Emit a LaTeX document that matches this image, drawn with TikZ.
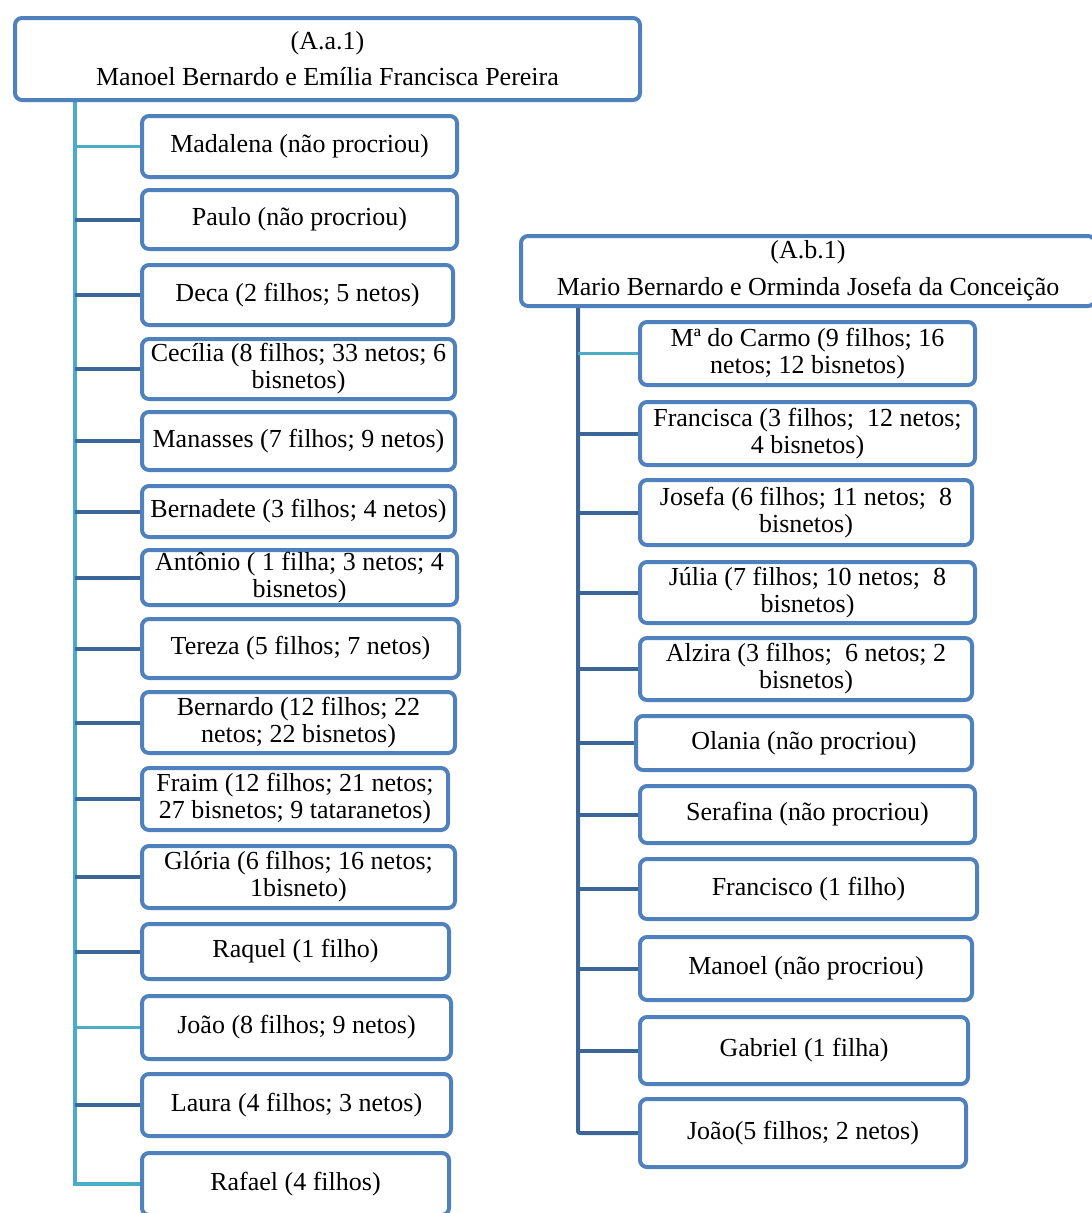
\documentclass[tikz,border=0pt]{standalone}
\usepackage{fontspec}
\setmainfont{Liberation Serif}
\usetikzlibrary{backgrounds}
\definecolor{boxblue}{HTML}{4F81BD}
\definecolor{linkdark}{HTML}{3B6497}
\definecolor{linklight}{HTML}{4BACC6}
\begin{document}
\begin{tikzpicture}[x=1pt,y=-1pt,
  font=\fontsize{26}{27}\selectfont,
  member/.style={draw=boxblue, line width=4pt, rounded corners=7pt, fill=white,
    anchor=west, align=center, inner sep=0pt},
  couple/.style={member, anchor=center},
  darklink/.style={draw=linkdark, line width=4pt},
  lightlink/.style={draw=linklight, line width=2.5pt},
  trunkL/.style={draw=linklight, line width=3.5pt},
  trunkR/.style={draw=linkdark, line width=4pt, rounded corners=2pt},
]
\useasboundingbox (0,0) rectangle (1092,1213);
\clip (0,0) rectangle (1092,1213);

% ---- family A.a.1 ----
\node[couple, minimum width=625pt, minimum height=82pt] (hL) at (327.5,59)
  {(A.a.1)\\[9pt]Manoel Bernardo e Emília Francisca Pereira};

\node[member, minimum width=315pt, minimum height=61pt] (l1) at (140,146.5) {Madalena (não procriou)};
\node[member, minimum width=315pt, minimum height=59pt] (l2) at (140,219.5) {Paulo (não procriou)};
\node[member, minimum width=311pt, minimum height=60pt] (l3) at (140,295) {Deca (2 filhos; 5 netos)};
\node[member, minimum width=313pt, minimum height=60pt] (l4) at (140,369) {Cecília (8 filhos; 33 netos; 6\\bisnetos)};
\node[member, minimum width=313pt, minimum height=58pt] (l5) at (140,441) {Manasses (7 filhos; 9 netos)};
\node[member, minimum width=313pt, minimum height=51pt] (l6) at (140,511.5) {Bernadete (3 filhos; 4 netos)};
\node[member, minimum width=315pt, minimum height=55pt] (l7) at (140,577.5) {Antônio ( 1 filha; 3 netos; 4\\bisnetos)};
\node[member, minimum width=317pt, minimum height=59pt] (l8) at (140,648.5) {Tereza (5 filhos; 7 netos)};
\node[member, minimum width=313pt, minimum height=61pt] (l9) at (140,722.5) {Bernardo (12 filhos; 22\\netos; 22 bisnetos)};
\node[member, minimum width=306pt, minimum height=62pt] (l10) at (140,799) {Fraim (12 filhos; 21 netos;\\27 bisnetos; 9 tataranetos)};
\node[member, minimum width=313pt, minimum height=62pt] (l11) at (140,877) {Glória (6 filhos; 16 netos;\\1bisneto)};
\node[member, minimum width=307pt, minimum height=55pt] (l12) at (140,951.5) {Raquel (1 filho)};
\node[member, minimum width=309pt, minimum height=63pt] (l13) at (140,1027.5) {João (8 filhos; 9 netos)};
\node[member, minimum width=309pt, minimum height=62pt] (l14) at (140,1105) {Laura (4 filhos; 3 netos)};
\node[member, minimum width=307pt, minimum height=62pt] (l15) at (140,1184) {Rafael (4 filhos)};

% ---- family A.b.1 ----
\node[couple, minimum width=574pt, minimum height=70pt] (hR) at (808,271)
  {(A.b.1)\\[10pt]Mario Bernardo e Orminda Josefa da Conceição};

\node[member, minimum width=335pt, minimum height=63pt] (r1) at (638,353.5) {Mª do Carmo (9 filhos; 16\\netos; 12 bisnetos)};
\node[member, minimum width=335pt, minimum height=63pt] (r2) at (638,433.5) {Francisca (3 filhos;\ \ 12 netos;\\4 bisnetos)};
\node[member, minimum width=332pt, minimum height=65pt] (r3) at (638,512.5) {Josefa (6 filhos; 11 netos;\ \ 8\\bisnetos)};
\node[member, minimum width=335pt, minimum height=61pt] (r4) at (638,592.5) {Júlia (7 filhos; 10 netos;\ \ 8\\bisnetos)};
\node[member, minimum width=332pt, minimum height=62pt] (r5) at (638,669) {Alzira (3 filhos;\ \ 6 netos; 2\\bisnetos)};
\node[member, minimum width=336pt, minimum height=54pt] (r6) at (634,743) {Olania (não procriou)};
\node[member, minimum width=335pt, minimum height=57pt] (r7) at (638,814.5) {Serafina (não procriou)};
\node[member, minimum width=337pt, minimum height=60pt] (r8) at (638,889) {Francisco (1 filho)};
\node[member, minimum width=332pt, minimum height=63pt] (r9) at (638,968.5) {Manoel (não procriou)};
\node[member, minimum width=328pt, minimum height=67pt] (r10) at (638,1050.5) {Gabriel (1 filha)};
\node[member, minimum width=326pt, minimum height=68pt] (r11) at (638,1133) {João(5 filhos; 2 netos)};

% ---- connectors ----
\coordinate (spineL) at (75,0);
\coordinate (spineR) at (578,0);
\begin{scope}[on background layer]
  \draw[trunkL] (hL.south -| spineL) |- (l15.west);
  \foreach \c in {l2,l3,l4,l5,l6,l7,l8,l9,l10,l11,l12,l14}
    \draw[darklink] (\c.west -| spineL) -- (\c.west);
  \foreach \c in {l1,l13}
    \draw[lightlink] (\c.west -| spineL) -- (\c.west);

  \draw[trunkR] (hR.south -| spineR) |- (r11.west);
  \foreach \c in {r2,r3,r4,r5,r6,r7,r8,r9,r10}
    \draw[darklink] (\c.west -| spineR) -- (\c.west);
  \draw[lightlink] (r1.west -| spineR) -- (r1.west);
\end{scope}
\end{tikzpicture}
\end{document}
